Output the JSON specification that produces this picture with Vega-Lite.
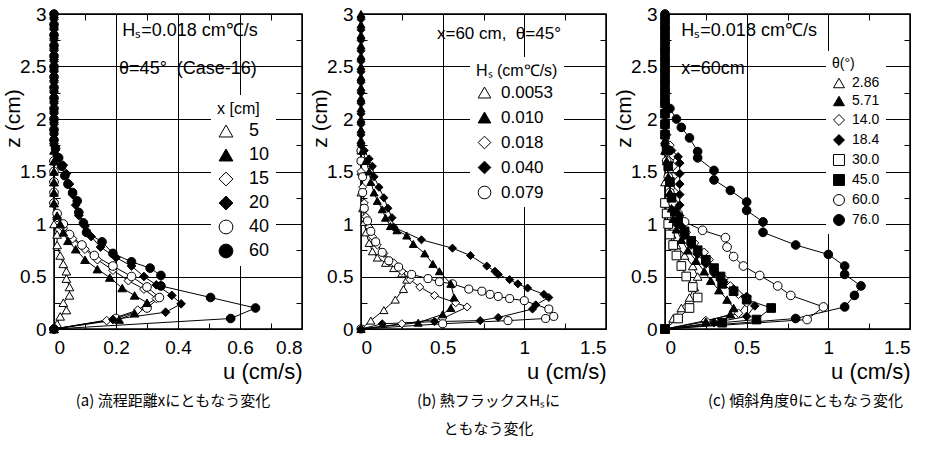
{
"$schema":"https://vega.github.io/schema/vega-lite/v6.json",
"background":"white",
"padding":{"left":1,"top":4,"right":5,"bottom":5},
"spacing":59,
"bounds":"flush",
"resolve":{"scale":{"shape":"independent","fill":"independent","stroke":"independent"},"legend":{"shape":"independent","fill":"independent","stroke":"independent"}},
"datasets":{
"a":[
{"s":"5","u":0,"z":0},{"s":"5","u":0.01,"z":0.05},{"s":"5","u":0.02,"z":0.12},{"s":"5","u":0.04,"z":0.18},{"s":"5","u":0.03,"z":0.25},{"s":"5","u":0.05,"z":0.32},{"s":"5","u":0.05,"z":0.4},{"s":"5","u":0.04,"z":0.48},{"s":"5","u":0.04,"z":0.55},{"s":"5","u":0.03,"z":0.62},{"s":"5","u":0.02,"z":0.7},{"s":"5","u":0.01,"z":0.8},{"s":"5","u":0.01,"z":0.9},{"s":"5","u":0,"z":1},{"s":"5","u":0,"z":1.2},{"s":"5","u":0,"z":1.4},{"s":"5","u":0,"z":1.6},
{"s":"15","u":0,"z":0},{"s":"15","u":0.17,"z":0.08},{"s":"15","u":0.27,"z":0.18},{"s":"15","u":0.33,"z":0.29},{"s":"15","u":0.29,"z":0.38},{"s":"15","u":0.24,"z":0.46},{"s":"15","u":0.19,"z":0.56},{"s":"15","u":0.14,"z":0.66},{"s":"15","u":0.1,"z":0.76},{"s":"15","u":0.06,"z":0.86},{"s":"15","u":0.03,"z":0.96},{"s":"15","u":0.01,"z":1.06},{"s":"15","u":0,"z":1.2},{"s":"15","u":0,"z":1.4},{"s":"15","u":0,"z":1.6},
{"s":"40","u":0,"z":0},{"s":"40","u":0.2,"z":0.1},{"s":"40","u":0.3,"z":0.2},{"s":"40","u":0.34,"z":0.3},{"s":"40","u":0.3,"z":0.4},{"s":"40","u":0.25,"z":0.5},{"s":"40","u":0.19,"z":0.6},{"s":"40","u":0.13,"z":0.7},{"s":"40","u":0.09,"z":0.8},{"s":"40","u":0.05,"z":0.9},{"s":"40","u":0.03,"z":1},{"s":"40","u":0.01,"z":1.1},{"s":"40","u":0,"z":1.2},{"s":"40","u":0,"z":1.3},{"s":"40","u":0,"z":1.4},{"s":"40","u":0,"z":1.5},{"s":"40","u":0,"z":1.6},
{"s":"10","u":0,"z":0},{"s":"10","u":0.21,"z":0.09},{"s":"10","u":0.26,"z":0.15},{"s":"10","u":0.3,"z":0.25},{"s":"10","u":0.26,"z":0.32},{"s":"10","u":0.22,"z":0.39},{"s":"10","u":0.18,"z":0.49},{"s":"10","u":0.14,"z":0.57},{"s":"10","u":0.1,"z":0.66},{"s":"10","u":0.07,"z":0.76},{"s":"10","u":0.045,"z":0.84},{"s":"10","u":0.03,"z":0.92},{"s":"10","u":0.02,"z":1},{"s":"10","u":0.01,"z":1.08},{"s":"10","u":0,"z":1.2},{"s":"10","u":0,"z":1.3},{"s":"10","u":0,"z":1.4},{"s":"10","u":0,"z":1.5},{"s":"10","u":0,"z":1.6},{"s":"10","u":0,"z":1.7},{"s":"10","u":0,"z":1.8},{"s":"10","u":0,"z":1.9},{"s":"10","u":0,"z":2},{"s":"10","u":0,"z":2.1},{"s":"10","u":0,"z":2.2},{"s":"10","u":0,"z":2.3},{"s":"10","u":0,"z":2.4},{"s":"10","u":0,"z":2.5},{"s":"10","u":0,"z":2.6},{"s":"10","u":0,"z":2.7},{"s":"10","u":0,"z":2.8},{"s":"10","u":0,"z":2.9},{"s":"10","u":0,"z":3},
{"s":"20","u":0,"z":0},{"s":"20","u":0.19,"z":0.09},{"s":"20","u":0.36,"z":0.16},{"s":"20","u":0.41,"z":0.24},{"s":"20","u":0.38,"z":0.32},{"s":"20","u":0.33,"z":0.42},{"s":"20","u":0.29,"z":0.5},{"s":"20","u":0.25,"z":0.6},{"s":"20","u":0.2,"z":0.68},{"s":"20","u":0.15,"z":0.78},{"s":"20","u":0.12,"z":0.88},{"s":"20","u":0.1,"z":0.98},{"s":"20","u":0.08,"z":1.08},{"s":"20","u":0.07,"z":1.18},{"s":"20","u":0.06,"z":1.28},{"s":"20","u":0.05,"z":1.38},{"s":"20","u":0.04,"z":1.48},{"s":"20","u":0.03,"z":1.56},{"s":"20","u":0.01,"z":1.65},{"s":"20","u":0,"z":1.75},{"s":"20","u":0,"z":1.85},{"s":"20","u":0,"z":1.95},{"s":"20","u":0,"z":2.05},{"s":"20","u":0,"z":2.15},{"s":"20","u":0,"z":2.25},{"s":"20","u":0,"z":2.35},{"s":"20","u":0,"z":2.45},{"s":"20","u":0,"z":2.55},{"s":"20","u":0,"z":2.65},{"s":"20","u":0,"z":2.75},{"s":"20","u":0,"z":2.85},{"s":"20","u":0,"z":2.95},
{"s":"60","u":0,"z":0},{"s":"60","u":0.57,"z":0.1},{"s":"60","u":0.65,"z":0.2},{"s":"60","u":0.505,"z":0.3},{"s":"60","u":0.345,"z":0.41},{"s":"60","u":0.345,"z":0.51},{"s":"60","u":0.31,"z":0.58},{"s":"60","u":0.25,"z":0.64},{"s":"60","u":0.19,"z":0.72},{"s":"60","u":0.155,"z":0.83},{"s":"60","u":0.105,"z":0.92},{"s":"60","u":0.095,"z":1.01},{"s":"60","u":0.08,"z":1.11},{"s":"60","u":0.075,"z":1.22},{"s":"60","u":0.06,"z":1.3},{"s":"60","u":0.045,"z":1.38},{"s":"60","u":0.035,"z":1.46},{"s":"60","u":0.025,"z":1.55},{"s":"60","u":0.015,"z":1.63},{"s":"60","u":0.005,"z":1.72},{"s":"60","u":0,"z":1.8},{"s":"60","u":0,"z":1.9},{"s":"60","u":0,"z":2},{"s":"60","u":0,"z":2.1},{"s":"60","u":0,"z":2.2},{"s":"60","u":0,"z":2.3},{"s":"60","u":0,"z":2.4},{"s":"60","u":0,"z":2.5},{"s":"60","u":0,"z":2.6},{"s":"60","u":0,"z":2.7},{"s":"60","u":0,"z":2.8},{"s":"60","u":0,"z":2.9},{"s":"60","u":0,"z":3}
],
"b":[
{"s":"0.0053","u":0,"z":0},{"s":"0.0053","u":0.06,"z":0.08},{"s":"0.0053","u":0.14,"z":0.18},{"s":"0.0053","u":0.21,"z":0.28},{"s":"0.0053","u":0.26,"z":0.38},{"s":"0.0053","u":0.28,"z":0.47},{"s":"0.0053","u":0.25,"z":0.53},{"s":"0.0053","u":0.2,"z":0.58},{"s":"0.0053","u":0.15,"z":0.63},{"s":"0.0053","u":0.1,"z":0.68},{"s":"0.0053","u":0.07,"z":0.74},{"s":"0.0053","u":0.05,"z":0.82},{"s":"0.0053","u":0.03,"z":0.92},{"s":"0.0053","u":0.02,"z":1.02},{"s":"0.0053","u":0.01,"z":1.15},{"s":"0.0053","u":0,"z":1.3},{"s":"0.0053","u":0,"z":1.5},{"s":"0.0053","u":0,"z":1.7},
{"s":"0.018","u":0,"z":0},{"s":"0.018","u":0.25,"z":0.05},{"s":"0.018","u":0.5,"z":0.1},{"s":"0.018","u":0.65,"z":0.21},{"s":"0.018","u":0.58,"z":0.25},{"s":"0.018","u":0.45,"z":0.32},{"s":"0.018","u":0.36,"z":0.4},{"s":"0.018","u":0.3,"z":0.47},{"s":"0.018","u":0.25,"z":0.55},{"s":"0.018","u":0.2,"z":0.63},{"s":"0.018","u":0.14,"z":0.72},{"s":"0.018","u":0.1,"z":0.8},{"s":"0.018","u":0.07,"z":0.88},{"s":"0.018","u":0.05,"z":0.97},{"s":"0.018","u":0.03,"z":1.07},{"s":"0.018","u":0.02,"z":1.2},{"s":"0.018","u":0.01,"z":1.35},{"s":"0.018","u":0,"z":1.5},{"s":"0.018","u":0,"z":1.7},
{"s":"0.079","u":0,"z":0},{"s":"0.079","u":0.5,"z":0.05},{"s":"0.079","u":0.9,"z":0.08},{"s":"0.079","u":1.13,"z":0.1},{"s":"0.079","u":1.18,"z":0.12},{"s":"0.079","u":1.15,"z":0.19},{"s":"0.079","u":1,"z":0.27},{"s":"0.079","u":0.91,"z":0.29},{"s":"0.079","u":0.84,"z":0.31},{"s":"0.079","u":0.79,"z":0.33},{"s":"0.079","u":0.74,"z":0.36},{"s":"0.079","u":0.66,"z":0.38},{"s":"0.079","u":0.56,"z":0.43},{"s":"0.079","u":0.48,"z":0.45},{"s":"0.079","u":0.41,"z":0.48},{"s":"0.079","u":0.31,"z":0.52},{"s":"0.079","u":0.23,"z":0.59},{"s":"0.079","u":0.17,"z":0.65},{"s":"0.079","u":0.13,"z":0.73},{"s":"0.079","u":0.09,"z":0.83},{"s":"0.079","u":0.06,"z":0.93},{"s":"0.079","u":0.04,"z":1.03},{"s":"0.079","u":0.02,"z":1.15},{"s":"0.079","u":0.01,"z":1.3},{"s":"0.079","u":0.01,"z":1.45},{"s":"0.079","u":0,"z":1.6},{"s":"0.079","u":0,"z":1.7},
{"s":"0.010","u":0,"z":0},{"s":"0.010","u":0.35,"z":0.06},{"s":"0.010","u":0.5,"z":0.14},{"s":"0.010","u":0.55,"z":0.2},{"s":"0.010","u":0.57,"z":0.3},{"s":"0.010","u":0.55,"z":0.43},{"s":"0.010","u":0.48,"z":0.55},{"s":"0.010","u":0.44,"z":0.62},{"s":"0.010","u":0.39,"z":0.72},{"s":"0.010","u":0.32,"z":0.81},{"s":"0.010","u":0.28,"z":0.89},{"s":"0.010","u":0.22,"z":0.94},{"s":"0.010","u":0.18,"z":0.98},{"s":"0.010","u":0.15,"z":1.06},{"s":"0.010","u":0.13,"z":1.14},{"s":"0.010","u":0.1,"z":1.22},{"s":"0.010","u":0.08,"z":1.3},{"s":"0.010","u":0.06,"z":1.4},{"s":"0.010","u":0.05,"z":1.5},{"s":"0.010","u":0.03,"z":1.6},{"s":"0.010","u":0.01,"z":1.7},{"s":"0.010","u":0,"z":1.8},{"s":"0.010","u":0,"z":1.9},{"s":"0.010","u":0,"z":2},{"s":"0.010","u":0,"z":2.1},{"s":"0.010","u":0,"z":2.2},{"s":"0.010","u":0,"z":2.3},{"s":"0.010","u":0,"z":2.4},{"s":"0.010","u":0,"z":2.5},{"s":"0.010","u":0,"z":2.6},{"s":"0.010","u":0,"z":2.7},{"s":"0.010","u":0,"z":2.8},{"s":"0.010","u":0,"z":2.9},{"s":"0.010","u":0,"z":3},
{"s":"0.040","u":0,"z":0},{"s":"0.040","u":0.13,"z":0.05},{"s":"0.040","u":0.45,"z":0.07},{"s":"0.040","u":0.73,"z":0.08},{"s":"0.040","u":0.84,"z":0.11},{"s":"0.040","u":1.05,"z":0.19},{"s":"0.040","u":1.07,"z":0.23},{"s":"0.040","u":1.15,"z":0.3},{"s":"0.040","u":1.12,"z":0.33},{"s":"0.040","u":1.02,"z":0.39},{"s":"0.040","u":0.96,"z":0.43},{"s":"0.040","u":0.91,"z":0.47},{"s":"0.040","u":0.84,"z":0.52},{"s":"0.040","u":0.82,"z":0.55},{"s":"0.040","u":0.77,"z":0.6},{"s":"0.040","u":0.67,"z":0.7},{"s":"0.040","u":0.56,"z":0.77},{"s":"0.040","u":0.37,"z":0.85},{"s":"0.040","u":0.2,"z":0.97},{"s":"0.040","u":0.19,"z":1.06},{"s":"0.040","u":0.165,"z":1.15},{"s":"0.040","u":0.14,"z":1.25},{"s":"0.040","u":0.11,"z":1.35},{"s":"0.040","u":0.08,"z":1.45},{"s":"0.040","u":0.07,"z":1.55},{"s":"0.040","u":0.05,"z":1.62},{"s":"0.040","u":0.02,"z":1.7},{"s":"0.040","u":0,"z":1.75},{"s":"0.040","u":0,"z":1.85},{"s":"0.040","u":0,"z":1.95},{"s":"0.040","u":0,"z":2.05},{"s":"0.040","u":0,"z":2.15},{"s":"0.040","u":0,"z":2.25},{"s":"0.040","u":0,"z":2.35},{"s":"0.040","u":0,"z":2.45},{"s":"0.040","u":0,"z":2.55},{"s":"0.040","u":0,"z":2.65},{"s":"0.040","u":0,"z":2.75},{"s":"0.040","u":0,"z":2.85},{"s":"0.040","u":0,"z":2.95}
],
"c":[
{"s":"2.86","u":0,"z":0},{"s":"2.86","u":0.05,"z":0.1},{"s":"2.86","u":0.1,"z":0.2},{"s":"2.86","u":0.15,"z":0.3},{"s":"2.86","u":0.18,"z":0.4},{"s":"2.86","u":0.2,"z":0.5},{"s":"2.86","u":0.17,"z":0.6},{"s":"2.86","u":0.12,"z":0.7},{"s":"2.86","u":0.07,"z":0.8},{"s":"2.86","u":0.04,"z":0.9},{"s":"2.86","u":0.02,"z":1},{"s":"2.86","u":0.01,"z":1.1},{"s":"2.86","u":0,"z":1.2},{"s":"2.86","u":0,"z":1.4},
{"s":"14.0","u":0,"z":0},{"s":"14.0","u":0.25,"z":0.08},{"s":"14.0","u":0.45,"z":0.15},{"s":"14.0","u":0.5,"z":0.25},{"s":"14.0","u":0.45,"z":0.33},{"s":"14.0","u":0.4,"z":0.41},{"s":"14.0","u":0.36,"z":0.48},{"s":"14.0","u":0.3,"z":0.57},{"s":"14.0","u":0.27,"z":0.66},{"s":"14.0","u":0.24,"z":0.73},{"s":"14.0","u":0.18,"z":0.82},{"s":"14.0","u":0.13,"z":0.92},{"s":"14.0","u":0.09,"z":1.02},{"s":"14.0","u":0.07,"z":1.15},{"s":"14.0","u":0.06,"z":1.3},{"s":"14.0","u":0.05,"z":1.45},{"s":"14.0","u":0.05,"z":1.55},{"s":"14.0","u":0.05,"z":1.65},{"s":"14.0","u":0.03,"z":1.75},{"s":"14.0","u":0.01,"z":1.85},
{"s":"30.0","u":0,"z":0},{"s":"30.0","u":0.08,"z":0.1},{"s":"30.0","u":0.15,"z":0.2},{"s":"30.0","u":0.2,"z":0.3},{"s":"30.0","u":0.17,"z":0.4},{"s":"30.0","u":0.13,"z":0.5},{"s":"30.0","u":0.1,"z":0.6},{"s":"30.0","u":0.07,"z":0.7},{"s":"30.0","u":0.05,"z":0.8},{"s":"30.0","u":0.03,"z":0.9},{"s":"30.0","u":0.02,"z":1},{"s":"30.0","u":0.01,"z":1.1},{"s":"30.0","u":0,"z":1.2},
{"s":"60.0","u":0,"z":0},{"s":"60.0","u":0.87,"z":0.09},{"s":"60.0","u":0.97,"z":0.21},{"s":"60.0","u":0.77,"z":0.32},{"s":"60.0","u":0.69,"z":0.41},{"s":"60.0","u":0.58,"z":0.51},{"s":"60.0","u":0.48,"z":0.6},{"s":"60.0","u":0.42,"z":0.69},{"s":"60.0","u":0.38,"z":0.78},{"s":"60.0","u":0.37,"z":0.87},{"s":"60.0","u":0.23,"z":0.94},{"s":"60.0","u":0.12,"z":1.02},{"s":"60.0","u":0.08,"z":1.1},{"s":"60.0","u":0.05,"z":1.2},{"s":"60.0","u":0.03,"z":1.3},{"s":"60.0","u":0.02,"z":1.45},{"s":"60.0","u":0.01,"z":1.6},
{"s":"5.71","u":0,"z":0},{"s":"5.71","u":0.25,"z":0.07},{"s":"5.71","u":0.4,"z":0.14},{"s":"5.71","u":0.42,"z":0.2},{"s":"5.71","u":0.38,"z":0.28},{"s":"5.71","u":0.33,"z":0.37},{"s":"5.71","u":0.28,"z":0.46},{"s":"5.71","u":0.24,"z":0.55},{"s":"5.71","u":0.19,"z":0.65},{"s":"5.71","u":0.14,"z":0.75},{"s":"5.71","u":0.1,"z":0.85},{"s":"5.71","u":0.07,"z":0.95},{"s":"5.71","u":0.05,"z":1.05},{"s":"5.71","u":0.04,"z":1.15},{"s":"5.71","u":0.03,"z":1.3},{"s":"5.71","u":0.02,"z":1.45},{"s":"5.71","u":0.01,"z":1.6},{"s":"5.71","u":0,"z":1.7},{"s":"5.71","u":0,"z":1.8},{"s":"5.71","u":0,"z":1.9},{"s":"5.71","u":0,"z":2},{"s":"5.71","u":0,"z":2.1},{"s":"5.71","u":0,"z":2.2},{"s":"5.71","u":0,"z":2.3},{"s":"5.71","u":0,"z":2.4},{"s":"5.71","u":0,"z":2.5},{"s":"5.71","u":0,"z":2.6},{"s":"5.71","u":0,"z":2.7},{"s":"5.71","u":0,"z":2.8},{"s":"5.71","u":0,"z":2.9},{"s":"5.71","u":0,"z":3},
{"s":"18.4","u":0,"z":0},{"s":"18.4","u":0.3,"z":0.06},{"s":"18.4","u":0.5,"z":0.12},{"s":"18.4","u":0.55,"z":0.22},{"s":"18.4","u":0.5,"z":0.31},{"s":"18.4","u":0.42,"z":0.38},{"s":"18.4","u":0.36,"z":0.45},{"s":"18.4","u":0.3,"z":0.53},{"s":"18.4","u":0.25,"z":0.62},{"s":"18.4","u":0.2,"z":0.71},{"s":"18.4","u":0.16,"z":0.8},{"s":"18.4","u":0.12,"z":0.89},{"s":"18.4","u":0.1,"z":0.98},{"s":"18.4","u":0.09,"z":1.08},{"s":"18.4","u":0.09,"z":1.18},{"s":"18.4","u":0.09,"z":1.28},{"s":"18.4","u":0.09,"z":1.38},{"s":"18.4","u":0.09,"z":1.48},{"s":"18.4","u":0.09,"z":1.58},{"s":"18.4","u":0.08,"z":1.64},{"s":"18.4","u":0.04,"z":1.7},{"s":"18.4","u":0,"z":1.75},{"s":"18.4","u":0,"z":1.85},{"s":"18.4","u":0,"z":1.95},{"s":"18.4","u":0,"z":2.05},{"s":"18.4","u":0,"z":2.15},{"s":"18.4","u":0,"z":2.25},{"s":"18.4","u":0,"z":2.35},{"s":"18.4","u":0,"z":2.45},{"s":"18.4","u":0,"z":2.55},{"s":"18.4","u":0,"z":2.65},{"s":"18.4","u":0,"z":2.75},{"s":"18.4","u":0,"z":2.85},{"s":"18.4","u":0,"z":2.95},
{"s":"45.0","u":0,"z":0},{"s":"45.0","u":0.35,"z":0.06},{"s":"45.0","u":0.56,"z":0.09},{"s":"45.0","u":0.65,"z":0.2},{"s":"45.0","u":0.5,"z":0.28},{"s":"45.0","u":0.42,"z":0.36},{"s":"45.0","u":0.35,"z":0.43},{"s":"45.0","u":0.34,"z":0.5},{"s":"45.0","u":0.3,"z":0.58},{"s":"45.0","u":0.25,"z":0.66},{"s":"45.0","u":0.2,"z":0.75},{"s":"45.0","u":0.16,"z":0.84},{"s":"45.0","u":0.12,"z":0.93},{"s":"45.0","u":0.08,"z":1.02},{"s":"45.0","u":0.06,"z":1.12},{"s":"45.0","u":0.04,"z":1.25},{"s":"45.0","u":0.03,"z":1.4},{"s":"45.0","u":0.02,"z":1.55},{"s":"45.0","u":0.01,"z":1.7},{"s":"45.0","u":0,"z":1.85},{"s":"45.0","u":0,"z":1.95},{"s":"45.0","u":0,"z":2.05},{"s":"45.0","u":0,"z":2.15},{"s":"45.0","u":0,"z":2.25},{"s":"45.0","u":0,"z":2.35},{"s":"45.0","u":0,"z":2.45},{"s":"45.0","u":0,"z":2.55},{"s":"45.0","u":0,"z":2.65},{"s":"45.0","u":0,"z":2.75},{"s":"45.0","u":0,"z":2.85},{"s":"45.0","u":0,"z":2.95},
{"s":"76.0","u":0,"z":0},{"s":"76.0","u":0.8,"z":0.1},{"s":"76.0","u":1.1,"z":0.21},{"s":"76.0","u":1.16,"z":0.32},{"s":"76.0","u":1.2,"z":0.41},{"s":"76.0","u":1.1,"z":0.52},{"s":"76.0","u":1.1,"z":0.6},{"s":"76.0","u":1,"z":0.71},{"s":"76.0","u":0.8,"z":0.8},{"s":"76.0","u":0.6,"z":0.92},{"s":"76.0","u":0.6,"z":1.02},{"s":"76.0","u":0.5,"z":1.13},{"s":"76.0","u":0.5,"z":1.21},{"s":"76.0","u":0.4,"z":1.32},{"s":"76.0","u":0.3,"z":1.42},{"s":"76.0","u":0.3,"z":1.51},{"s":"76.0","u":0.2,"z":1.63},{"s":"76.0","u":0.2,"z":1.69},{"s":"76.0","u":0.15,"z":1.82},{"s":"76.0","u":0.1,"z":1.92},{"s":"76.0","u":0.07,"z":2},{"s":"76.0","u":0.03,"z":2.1},{"s":"76.0","u":0,"z":2.2},{"s":"76.0","u":0,"z":2.3},{"s":"76.0","u":0,"z":2.4},{"s":"76.0","u":0,"z":2.5},{"s":"76.0","u":0,"z":2.6},{"s":"76.0","u":0,"z":2.7},{"s":"76.0","u":0,"z":2.8},{"s":"76.0","u":0,"z":2.9},{"s":"76.0","u":0,"z":3}
]
},
"hconcat":[
{
"width":248,"height":315,
"title":{"text":"(a) 流程距離xにともなう変化","orient":"bottom","anchor":"middle","offset":12,"dx":-5},
"resolve":{"axis":{"x":"independent","y":"independent"}},
"layer":[
{"data":{"name":"a"},"mark":{"type":"line","color":"black","strokeWidth":1},
"encoding":{
"x":{"field":"u","type":"quantitative","scale":{"domain":[0,0.8],"nice":false},"axis":{"values":[0,0.2,0.4,0.6,0.8],"format":"~g","title":"u (cm/s)"}},
"y":{"field":"z","type":"quantitative","scale":{"domain":[0,3],"nice":false},"axis":{"values":[0,0.5,1,1.5,2,2.5,3],"format":"~g","title":"z (cm)"}},
"detail":{"field":"s"},
"order":{"field":"z","type":"quantitative"}}},
{"data":{"values":[{}]},"mark":{"type":"point","opacity":0},
"encoding":{
"x":{"datum":0,"type":"quantitative","axis":{"orient":"bottom","values":[0.1,0.3,0.5,0.7],"labels":false,"ticks":true,"tickSize":-6,"tickColor":"black","grid":false,"title":null}},
"y":{"datum":0,"type":"quantitative","axis":{"orient":"left","values":[0.25,0.75,1.25,1.75,2.25,2.75],"labels":false,"ticks":true,"tickSize":-6,"tickColor":"black","grid":false,"title":null}}}},
{"data":{"values":[{}]},"mark":{"type":"point","opacity":0},
"encoding":{
"x":{"datum":0,"type":"quantitative","axis":{"orient":"top","values":[0.1,0.3,0.5,0.7],"labels":false,"ticks":true,"tickSize":-6,"tickColor":"black","grid":false,"title":null}},
"y":{"datum":0,"type":"quantitative","axis":{"orient":"right","values":[0.25,0.75,1.25,1.75,2.25,2.75],"labels":false,"ticks":true,"tickSize":-6,"tickColor":"black","grid":false,"title":null}}}},
{"data":{"name":"a"},"mark":{"type":"point","filled":true,"strokeWidth":1,"opacity":1,"size":75},
"encoding":{
"x":{"field":"u","type":"quantitative","axis":null},
"y":{"field":"z","type":"quantitative","axis":null},
"shape":{"field":"s","type":"nominal","scale":{"domain":["5","10","15","20","40","60"],"range":["triangle-up","triangle-up","diamond","diamond","circle","circle"]},"legend":{"title":"x [cm]","orient":"none","legendX":157,"legendY":81,"symbolSize":190,"labelFontSize":18,"titleFontSize":16,"rowPadding":6,"labelOffset":14}},
"fill":{"field":"s","type":"nominal","scale":{"domain":["5","10","15","20","40","60"],"range":["white","black","white","black","white","black"]},"legend":{"title":"x [cm]","orient":"none","legendX":157,"legendY":81,"symbolSize":190,"labelFontSize":18,"titleFontSize":16,"rowPadding":6,"labelOffset":14}},
"stroke":{"field":"s","type":"nominal","scale":{"domain":["5","10","15","20","40","60"],"range":["black","black","black","black","black","black"]},"legend":{"title":"x [cm]","orient":"none","legendX":157,"legendY":81,"symbolSize":190,"labelFontSize":18,"titleFontSize":16,"rowPadding":6,"labelOffset":14}}}},
{"data":{"values":[{}]},"mark":{"type":"text","align":"left","baseline":"middle","fontSize":18},
"encoding":{"x":{"datum":0.22,"axis":null},"y":{"datum":2.84,"axis":null},"text":{"value":"Hₛ=0.018 cm℃/s"}}},
{"data":{"values":[{}]},"mark":{"type":"text","align":"left","baseline":"middle","fontSize":18},
"encoding":{"x":{"datum":0.21,"axis":null},"y":{"datum":2.48,"axis":null},"text":{"value":"θ=45°\u00a0\u00a0(Case-16)"}}}
]
},
{
"width":245,"height":315,
"title":{"text":["(b) 熱フラックスHₛに","ともなう変化"],"orient":"bottom","anchor":"middle","offset":12,"dx":5},
"resolve":{"axis":{"x":"independent","y":"independent"}},
"layer":[
{"data":{"name":"b"},"mark":{"type":"line","color":"black","strokeWidth":1},
"encoding":{
"x":{"field":"u","type":"quantitative","scale":{"domain":[0,1.5],"nice":false},"axis":{"values":[0,0.5,1,1.5],"format":"~g","title":"u (cm/s)"}},
"y":{"field":"z","type":"quantitative","scale":{"domain":[0,3],"nice":false},"axis":{"values":[0,0.5,1,1.5,2,2.5,3],"format":"~g","title":"z (cm)"}},
"detail":{"field":"s"},
"order":{"field":"z","type":"quantitative"}}},
{"data":{"values":[{}]},"mark":{"type":"point","opacity":0},
"encoding":{
"x":{"datum":0,"type":"quantitative","axis":{"orient":"bottom","values":[0.25,0.75,1.25],"labels":false,"ticks":true,"tickSize":-6,"tickColor":"black","grid":false,"title":null}},
"y":{"datum":0,"type":"quantitative","axis":{"orient":"left","values":[0.25,0.75,1.25,1.75,2.25,2.75],"labels":false,"ticks":true,"tickSize":-6,"tickColor":"black","grid":false,"title":null}}}},
{"data":{"values":[{}]},"mark":{"type":"point","opacity":0},
"encoding":{
"x":{"datum":0,"type":"quantitative","axis":{"orient":"top","values":[0.25,0.75,1.25],"labels":false,"ticks":true,"tickSize":-6,"tickColor":"black","grid":false,"title":null}},
"y":{"datum":0,"type":"quantitative","axis":{"orient":"right","values":[0.25,0.75,1.25,1.75,2.25,2.75],"labels":false,"ticks":true,"tickSize":-6,"tickColor":"black","grid":false,"title":null}}}},
{"data":{"name":"b"},"mark":{"type":"point","filled":true,"strokeWidth":1,"opacity":1,"size":65},
"encoding":{
"x":{"field":"u","type":"quantitative","axis":null},
"y":{"field":"z","type":"quantitative","axis":null},
"shape":{"field":"s","type":"nominal","scale":{"domain":["0.0053","0.010","0.018","0.040","0.079"],"range":["triangle-up","triangle-up","diamond","diamond","circle"]},"legend":{"title":"Hₛ (cm℃/s)","orient":"none","legendX":109,"legendY":43,"symbolSize":160,"labelFontSize":17,"titleFontSize":16,"rowPadding":7,"labelOffset":8}},
"fill":{"field":"s","type":"nominal","scale":{"domain":["0.0053","0.010","0.018","0.040","0.079"],"range":["white","black","white","black","white"]},"legend":{"title":"Hₛ (cm℃/s)","orient":"none","legendX":109,"legendY":43,"symbolSize":160,"labelFontSize":17,"titleFontSize":16,"rowPadding":7,"labelOffset":8}},
"stroke":{"field":"s","type":"nominal","scale":{"domain":["0.0053","0.010","0.018","0.040","0.079"],"range":["black","black","black","black","black"]},"legend":{"title":"Hₛ (cm℃/s)","orient":"none","legendX":109,"legendY":43,"symbolSize":160,"labelFontSize":17,"titleFontSize":16,"rowPadding":7,"labelOffset":8}}}},
{"data":{"values":[{}]},"mark":{"type":"text","align":"left","baseline":"middle","fontSize":17},
"encoding":{"x":{"datum":0.465,"axis":null},"y":{"datum":2.81,"axis":null},"text":{"value":"x=60 cm,\u00a0\u00a0θ=45°"}}}
]
},
{
"width":245,"height":315,
"title":{"text":"(c) 傾斜角度θにともなう変化","orient":"bottom","anchor":"middle","offset":12,"dx":18},
"resolve":{"axis":{"x":"independent","y":"independent"}},
"layer":[
{"data":{"name":"c"},"mark":{"type":"line","color":"black","strokeWidth":1},
"encoding":{
"x":{"field":"u","type":"quantitative","scale":{"domain":[0,1.5],"nice":false},"axis":{"values":[0,0.5,1,1.5],"format":"~g","title":"u (cm/s)"}},
"y":{"field":"z","type":"quantitative","scale":{"domain":[0,3],"nice":false},"axis":{"values":[0,0.5,1,1.5,2,2.5,3],"format":"~g","title":"z (cm)"}},
"detail":{"field":"s"},
"order":{"field":"z","type":"quantitative"}}},
{"data":{"values":[{}]},"mark":{"type":"point","opacity":0},
"encoding":{
"x":{"datum":0,"type":"quantitative","axis":{"orient":"bottom","values":[0.25,0.75,1.25],"labels":false,"ticks":true,"tickSize":-6,"tickColor":"black","grid":false,"title":null}},
"y":{"datum":0,"type":"quantitative","axis":{"orient":"left","values":[0.25,0.75,1.25,1.75,2.25,2.75],"labels":false,"ticks":true,"tickSize":-6,"tickColor":"black","grid":false,"title":null}}}},
{"data":{"values":[{}]},"mark":{"type":"point","opacity":0},
"encoding":{
"x":{"datum":0,"type":"quantitative","axis":{"orient":"top","values":[0.25,0.75,1.25],"labels":false,"ticks":true,"tickSize":-6,"tickColor":"black","grid":false,"title":null}},
"y":{"datum":0,"type":"quantitative","axis":{"orient":"right","values":[0.25,0.75,1.25,1.75,2.25,2.75],"labels":false,"ticks":true,"tickSize":-6,"tickColor":"black","grid":false,"title":null}}}},
{"data":{"name":"c"},"mark":{"type":"point","filled":true,"strokeWidth":1,"opacity":1,"size":75},
"encoding":{
"x":{"field":"u","type":"quantitative","axis":null},
"y":{"field":"z","type":"quantitative","axis":null},
"shape":{"field":"s","type":"nominal","scale":{"domain":["2.86","5.71","14.0","18.4","30.0","45.0","60.0","76.0"],"range":["triangle-up","triangle-up","diamond","diamond","square","square","circle","circle"]},"legend":{"title":"θ(°)","orient":"none","legendX":161,"legendY":37,"symbolSize":120,"labelFontSize":14,"titleFontSize":14,"rowPadding":4,"labelOffset":6}},
"fill":{"field":"s","type":"nominal","scale":{"domain":["2.86","5.71","14.0","18.4","30.0","45.0","60.0","76.0"],"range":["white","black","white","black","white","black","white","black"]},"legend":{"title":"θ(°)","orient":"none","legendX":161,"legendY":37,"symbolSize":120,"labelFontSize":14,"titleFontSize":14,"rowPadding":4,"labelOffset":6}},
"stroke":{"field":"s","type":"nominal","scale":{"domain":["2.86","5.71","14.0","18.4","30.0","45.0","60.0","76.0"],"range":["black","black","black","black","black","black","black","black"]},"legend":{"title":"θ(°)","orient":"none","legendX":161,"legendY":37,"symbolSize":120,"labelFontSize":14,"titleFontSize":14,"rowPadding":4,"labelOffset":6}}}},
{"data":{"values":[{}]},"mark":{"type":"text","align":"left","baseline":"middle","fontSize":18},
"encoding":{"x":{"datum":0.1,"axis":null},"y":{"datum":2.84,"axis":null},"text":{"value":"Hₛ=0.018 cm℃/s"}}},
{"data":{"values":[{}]},"mark":{"type":"text","align":"left","baseline":"middle","fontSize":18},
"encoding":{"x":{"datum":0.1,"axis":null},"y":{"datum":2.48,"axis":null},"text":{"value":"x=60cm"}}}
]
}
],
"config":{
"font":"Liberation Sans",
"view":{"stroke":"black","strokeWidth":1.5},
"text":{"font":"Liberation Sans","color":"black"},
"axis":{"labelFont":"Liberation Sans","labelFontSize":19,"labelColor":"black","titleFont":"Liberation Sans","titleFontSize":21,"titleFontWeight":"normal","titleColor":"black","grid":true,"gridColor":"black","gridWidth":1,"gridOpacity":1,"domain":false,"ticks":false},
"axisX":{"labelPadding":9,"titlePadding":4,"titleAnchor":"end","titleFontSize":22},
"axisY":{"labelPadding":8,"titleX":-41,"titleY":104,"titleAngle":-90,"titleAlign":"center","titleBaseline":"middle"},
"legend":{"fillColor":"white","padding":6,"symbolStrokeWidth":1,"symbolOpacity":1,"labelFont":"Liberation Sans","titleFont":"Liberation Sans","titleFontWeight":"normal","labelColor":"black","titleColor":"black"},
"title":{"font":"Noto Sans CJK JP","fontSize":15,"fontWeight":"normal","color":"black","lineHeight":28}
}
}
